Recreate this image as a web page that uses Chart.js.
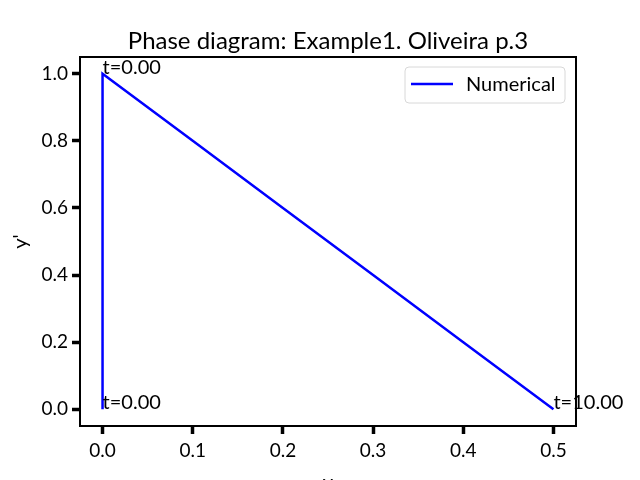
<!DOCTYPE html>
<html>
<head>
<meta charset="utf-8">
<script src="https://cdn.jsdelivr.net/npm/chart.js@4.4.1/dist/chart.umd.min.js"></script>
<style>
html,body{margin:0;padding:0;background:#fff;}
#wrap{width:640px;height:480px;position:relative;}
</style>
</head>
<body>
<div id="wrap"><canvas id="c" width="640" height="480"></canvas></div>
<script>
// ---- data ----
const yValues = [0.0, 0.0, 0.1, 0.2, 0.3, 0.4, 0.5];
const ypValues = [0.0, 1.0, 0.8, 0.6, 0.4, 0.2, 0.0];
const seriesName = 'Numerical';
const annotX = [0.0, 0.0, 0.5];
const annotY = [1.0, 0.0, 0.0];
const annotText = ['t=0.00', 't=0.00', 't=10.00'];
const xTicks = [0.0, 0.1, 0.2, 0.3, 0.4, 0.5];
const yTicks = [0.0, 0.2, 0.4, 0.6, 0.8, 1.0];
const titleText = 'Phase diagram: Example1. Oliveira p.3';
const xLabel = 'y';
const yLabel = "y'";

const FONT = 'Lato, "Open Sans", sans-serif';
const points = yValues.map((v, i) => ({x: v, y: ypValues[i]}));

const decor = {
  id: 'decor',
  afterDraw(chart) {
    const ctx = chart.ctx;
    const a = chart.chartArea;
    const xs = chart.scales.x, ys = chart.scales.y;
    ctx.save();
    // frame
    ctx.strokeStyle = '#000';
    ctx.lineWidth = 2;
    ctx.strokeRect(a.left, a.top, a.right - a.left, a.bottom - a.top);
    // title
    ctx.fillStyle = '#000';
    ctx.font = '24px ' + FONT;
    ctx.textAlign = 'center';
    ctx.textBaseline = 'middle';
    ctx.fillText(titleText, 328, 41);
    // axis labels
    ctx.font = '20px ' + FONT;
    ctx.fillText(xLabel, (a.left + a.right) / 2, 483);
    ctx.save();
    ctx.translate(21, (a.top + a.bottom) / 2);
    ctx.rotate(-Math.PI / 2);
    ctx.fillText(yLabel, 0, 0);
    ctx.restore();
    // annotations
    ctx.textAlign = 'left';
    ctx.textBaseline = 'alphabetic';
    ctx.font = '20px ' + FONT;
    annotText.forEach((t, i) => {
      ctx.fillText(t, xs.getPixelForValue(annotX[i]), ys.getPixelForValue(annotY[i]));
    });
    // legend
    const lx = 405, ly = 67, lw = 160, lh = 36;
    ctx.fillStyle = 'rgba(255,255,255,0.9)';
    ctx.strokeStyle = '#d8d8d8';
    ctx.lineWidth = 1;
    ctx.beginPath();
    ctx.roundRect(lx, ly, lw, lh, 4);
    ctx.fill();
    ctx.stroke();
    ctx.strokeStyle = '#0000ff';
    ctx.lineWidth = 2.5;
    ctx.beginPath();
    ctx.moveTo(411, 84);
    ctx.lineTo(453, 84);
    ctx.stroke();
    ctx.fillStyle = '#000';
    ctx.font = '20px ' + FONT;
    ctx.textBaseline = 'middle';
    ctx.fillText(seriesName, 466, 85);
    ctx.restore();
  }
};

new Chart(document.getElementById('c'), {
  type: 'scatter',
  data: {
    datasets: [{
      label: seriesName,
      data: points,
      showLine: true,
      borderColor: '#0000ff',
      backgroundColor: '#0000ff',
      borderWidth: 2.5,
      pointRadius: 0,
      tension: 0
    }]
  },
  options: {
    responsive: false,
    animation: false,
    devicePixelRatio: 1,
    layout: {padding: {left: 0, right: 64, top: 57, bottom: 0}},
    plugins: {legend: {display: false}, tooltip: {enabled: false}, title: {display: false}},
    scales: {
      x: {
        type: 'linear', min: -0.025, max: 0.525,
        afterFit(s) { s.height = 54; },
        afterBuildTicks(s) { s.ticks = xTicks.map(v => ({value: v})); },
        ticks: {
          color: '#000', font: {family: FONT, size: 19}, padding: 5,
          callback: v => Number(v).toFixed(1)
        },
        grid: {drawOnChartArea: false, tickLength: 8, tickWidth: 3.5, tickColor: '#000'},
        border: {display: true, color: '#000', width: 2}
      },
      y: {
        type: 'linear', min: -0.05, max: 1.05,
        afterFit(s) { s.width = 80; },
        afterBuildTicks(s) { s.ticks = yTicks.map(v => ({value: v})); },
        ticks: {
          color: '#000', font: {family: FONT, size: 19}, padding: 4,
          callback: v => Number(v).toFixed(1)
        },
        grid: {drawOnChartArea: false, tickLength: 8, tickWidth: 3.5, tickColor: '#000'},
        border: {display: true, color: '#000', width: 2}
      }
    }
  },
  plugins: [decor]
});
</script>
</body>
</html>
